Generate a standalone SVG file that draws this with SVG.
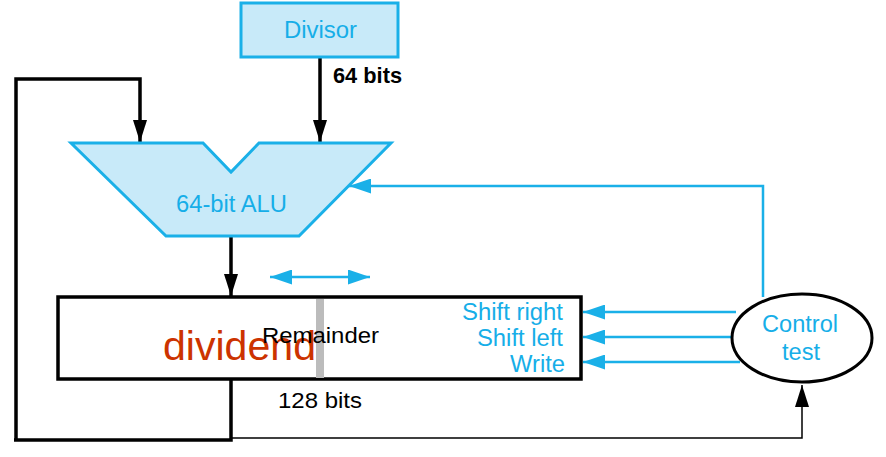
<svg xmlns="http://www.w3.org/2000/svg" width="886" height="457" viewBox="0 0 886 457">
<style>
.blue{fill:#c8eaf9;stroke:#1ab0e8;stroke-width:3}
.bt{font-family:"Liberation Sans",Arial,sans-serif;fill:#16aee8;font-size:23px}
.kt{font-family:"Liberation Sans",Arial,sans-serif;fill:#000;font-size:22px}
.bk{stroke:#000;stroke-width:3.5;fill:none}
.bl{stroke:#1ab0e8;stroke-width:2.5;fill:none}
</style>
<defs>
<marker id="ak" viewBox="0 0 22 14" refX="22" refY="7" markerWidth="22" markerHeight="14" orient="auto" markerUnits="userSpaceOnUse"><path d="M0,0L22,7L0,14z" fill="#000"/></marker>
<marker id="ab" viewBox="0 0 22 15" refX="22" refY="7.5" markerWidth="22" markerHeight="15" orient="auto" markerUnits="userSpaceOnUse"><path d="M0,0L22,7.5L0,15z" fill="#1ab0e8"/></marker>
<marker id="abs" viewBox="0 0 22 15" refX="0" refY="7.5" markerWidth="22" markerHeight="15" orient="auto" markerUnits="userSpaceOnUse"><path d="M22,0L0,7.5L22,15z" fill="#1ab0e8"/></marker>
</defs>
<g id="connectors">
<path class="bk" d="M320,57V142" marker-end="url(#ak)"/>
<path class="bk" d="M16,440V79H140V142" marker-end="url(#ak)"/>
<path class="bk" d="M231,236V296" marker-end="url(#ak)"/>
<path class="bk" d="M231,380V440H14"/>
<path d="M231,438H802V385" stroke="#000" stroke-width="1.5" fill="none" marker-end="url(#ak)"/>
<path class="bl" d="M763,297V186H349" marker-end="url(#ab)"/>
<path class="bl" d="M736,312H583" marker-end="url(#ab)"/>
<path class="bl" d="M733,337H583" marker-end="url(#ab)"/>
<path class="bl" d="M740,362H583" marker-end="url(#ab)"/>
<path class="bl" d="M270,277H370" marker-start="url(#abs)" marker-end="url(#ab)"/>
</g>
<g id="divisor">
<rect class="blue" x="241" y="3" width="157" height="54"/>
<text class="bt" x="284" y="38" textLength="73" lengthAdjust="spacingAndGlyphs">Divisor</text>
</g>
<text class="kt" x="333" y="83" font-weight="bold" textLength="69" lengthAdjust="spacingAndGlyphs">64 bits</text>
<g id="alu">
<path class="blue" d="M71,143H203L231,172L259,143H391L299,236H166Z"/>
<text class="bt" x="176" y="212" textLength="111" lengthAdjust="spacingAndGlyphs">64-bit ALU</text>
</g>
<g id="remainder">
<rect x="58" y="297" width="523" height="82" fill="#fff" stroke="#000" stroke-width="3.5"/>
<text x="163" y="360" font-family="'Liberation Sans',Arial,sans-serif" font-size="40" fill="#cc3300" textLength="153" lengthAdjust="spacingAndGlyphs">dividend</text>
<rect x="316" y="299" width="8" height="79" fill="#bcbcbc"/>
<text class="kt" x="262" y="343" textLength="117" lengthAdjust="spacingAndGlyphs">Remainder</text>
<text class="bt" x="462" y="320" textLength="101" lengthAdjust="spacingAndGlyphs">Shift right</text>
<text class="bt" x="477" y="346" textLength="86" lengthAdjust="spacingAndGlyphs">Shift left</text>
<text class="bt" x="510" y="372" textLength="55" lengthAdjust="spacingAndGlyphs">Write</text>
</g>
<text class="kt" x="278" y="408" textLength="84" lengthAdjust="spacingAndGlyphs">128 bits</text>
<g id="control">
<ellipse cx="802" cy="338" rx="70" ry="44" fill="#fff" stroke="#000" stroke-width="3"/>
<text class="bt" x="762" y="332" textLength="76" lengthAdjust="spacingAndGlyphs">Control</text>
<text class="bt" x="782" y="360" textLength="38" lengthAdjust="spacingAndGlyphs">test</text>
</g>
</svg>
